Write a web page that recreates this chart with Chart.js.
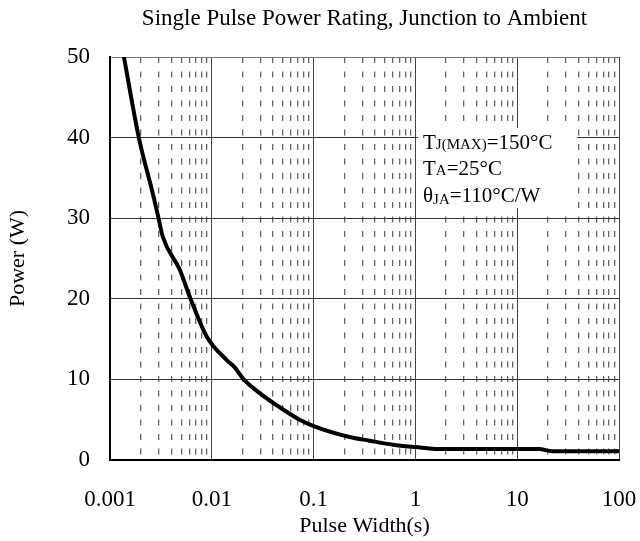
<!DOCTYPE html>
<html>
<head>
<meta charset="utf-8">
<script src="https://cdn.jsdelivr.net/npm/chart.js@4.4.1/dist/chart.umd.min.js"></script>
<style>
  body { margin: 0; background: #fff; }
</style>
</head>
<body>
<canvas id="powerChart" width="640" height="541"></canvas>
<script>
const pulseWidth = [0.00137, 0.00192, 0.00264, 0.0030, 0.0033, 0.00485, 0.00618, 0.00893, 0.014, 0.0168, 0.0206, 0.0295, 0.0497, 0.073, 0.1, 0.225, 0.354, 0.6, 1, 1.7, 16.4, 22, 100];
const powerW = [50, 40, 33, 30, 27.7, 23.6, 20, 15.3, 12.4, 11.5, 10, 8.3, 6.3, 5.0, 4.2, 2.85, 2.4, 1.9, 1.6, 1.35, 1.35, 1.1, 1.1];

const xDecades = [0.001, 0.01, 0.1, 1, 10, 100];
const xTickLabels = ['0.001', '0.01', '0.1', '1', '10', '100'];
const yTicks = [0, 10, 20, 30, 40, 50];

const chartTitle = 'Single Pulse Power Rating, Junction to Ambient';
const FONT = "'Liberation Serif', 'Times New Roman', serif";

function isDecade(v) {
  const l = Math.log10(v);
  return Math.abs(l - Math.round(l)) < 1e-9;
}

// title centred over the plot area, plus the box with the thermal conditions
const notePlugin = {
  id: 'note',
  beforeDatasetsDraw(chart) {
    const ctx = chart.ctx;
    const area = chart.chartArea;
    ctx.save();
    ctx.fillStyle = '#000';
    ctx.font = '23px ' + FONT;
    ctx.textAlign = 'center';
    ctx.textBaseline = 'middle';
    ctx.fillText(chartTitle, (area.left + area.right) / 2, 19);

    ctx.textAlign = 'left';
    ctx.fillStyle = '#fff';
    ctx.fillRect(418, 128, 159, 80);
    ctx.fillStyle = '#000';
    ctx.textBaseline = 'alphabetic';
    const big = '21px ' + FONT, small = '15px ' + FONT;
    const parts = [
      [[big, 'T', 0], [small, 'J(MAX)', 0], [big, '=150°C', 0]],
      [[big, 'T', 0], [small, 'A', 0], [big, '=25°C', 0]],
      [[big, 'θ', 0], [small, 'JA', 2], [big, '=110°C/W', 0]]
    ];
    const baselines = [149, 175, 202];
    parts.forEach((line, i) => {
      let x = 423;
      line.forEach(([f, t, dy]) => {
        ctx.font = f;
        ctx.fillText(t, x, baselines[i] + dy);
        x += ctx.measureText(t).width;
      });
    });
    ctx.restore();
  }
};

new Chart(document.getElementById('powerChart'), {
  type: 'line',
  data: {
    datasets: [{
      data: pulseWidth.map((x, i) => ({ x: x, y: powerW[i] })),
      borderColor: '#000',
      borderWidth: 4,
      pointRadius: 0,
      cubicInterpolationMode: 'monotone',
      fill: false
    }]
  },
  options: {
    responsive: false,
    animation: false,
    layout: { padding: { left: 0, right: 21, top: 57, bottom: 0 } },
    plugins: {
      legend: { display: false },
      tooltip: { enabled: false },
      title: { display: false }
    },
    scales: {
      x: {
        type: 'logarithmic',
        min: 0.001,
        max: 100,
        afterBuildTicks: (scale) => {
          const ticks = [];
          for (let d = 0; d < xDecades.length; d++) {
            const base = xDecades[d];
            const last = d === xDecades.length - 1 ? 1 : 9;
            for (let k = 1; k <= last; k++) ticks.push({ value: +(base * k).toPrecision(6) });
          }
          scale.ticks = ticks;
        },
        afterFit: (scale) => {
          scale.height = 81;
          scale.paddingLeft = 0;
          scale.paddingRight = 0;
        },
        ticks: {
          autoSkip: false,
          maxRotation: 0,
          padding: 26,
          color: '#000',
          font: { family: FONT, size: 23 },
          callback: (v) => {
            const idx = xDecades.findIndex(d => Math.abs(d - v) < d * 1e-6);
            return idx >= 0 ? xTickLabels[idx] : '';
          }
        },
        grid: {
          drawTicks: false,
          color: (c) => (c.tick && isDecade(c.tick.value)) ? '#444' : '#666',
          lineWidth: (c) => (c.tick && isDecade(c.tick.value)) ? 1 : 1.3
        },
        border: {
          display: true,
          color: '#000',
          width: 2,
          dash: (c) => (c.tick && !isDecade(c.tick.value)) ? [6, 8.5] : []
        },
        title: {
          display: true,
          text: 'Pulse Width(s)',
          color: '#000',
          font: { family: FONT, size: 22 },
          padding: { top: 0, bottom: 2 }
        }
      },
      y: {
        min: 0,
        max: 50,
        afterBuildTicks: (scale) => { scale.ticks = yTicks.map(v => ({ value: v })); },
        afterFit: (scale) => {
          scale.width = 110;
          scale.paddingTop = 0;
          scale.paddingBottom = 0;
        },
        ticks: {
          padding: 20,
          color: '#000',
          font: { family: FONT, size: 23 }
        },
        grid: {
          drawTicks: false,
          color: (c) => (c.tick && c.tick.value === 50) ? '#777' : '#333',
          lineWidth: 1
        },
        border: { display: true, color: '#000', width: 2 },
        title: {
          display: true,
          text: 'Power (W)',
          color: '#000',
          font: { family: FONT, size: 22 },
          padding: { top: 5, bottom: 0 }
        }
      }
    }
  },
  plugins: [notePlugin]
});
</script>
</body>
</html>
